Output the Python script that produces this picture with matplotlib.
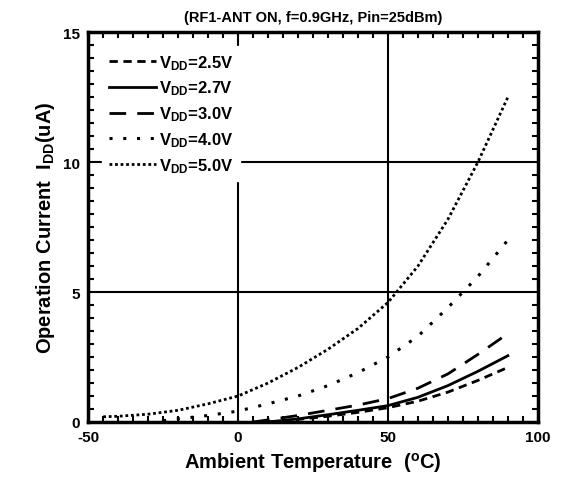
import matplotlib
matplotlib.use("Agg")
import matplotlib.pyplot as plt
from matplotlib.ticker import MultipleLocator

# fonts: Arial-like bold everywhere
plt.rcParams["font.family"] = ["Liberation Sans", "DejaVu Sans"]
plt.rcParams["font.weight"] = "bold"
plt.rcParams["mathtext.fontset"] = "custom"
plt.rcParams["mathtext.rm"] = "Liberation Sans:bold"
plt.rcParams["mathtext.bf"] = "Liberation Sans:bold"
plt.rcParams["mathtext.it"] = "Liberation Sans:bold"
plt.rcParams["mathtext.default"] = "rm"
plt.rcParams["axes.unicode_minus"] = False

# data (temperature in degC, current in uA)
t_25 = [10, 20, 30, 40, 50, 60, 70, 80, 90]
i_25 = [0.0, 0.1, 0.22, 0.37, 0.55, 0.8, 1.15, 1.6, 2.1]

t_27 = [10, 20, 30, 40, 50, 60, 70, 80, 90]
i_27 = [0.0, 0.12, 0.28, 0.45, 0.63, 0.95, 1.4, 1.95, 2.55]

t_30 = [5, 10, 20, 30, 40, 50, 60, 70, 80, 90]
i_30 = [0.0, 0.08, 0.25, 0.45, 0.65, 0.9, 1.3, 1.85, 2.6, 3.4]

t_40 = [-25, -20, -10, 0, 10, 20, 30, 40, 50, 60, 70, 80, 90]
i_40 = [0.05, 0.12, 0.25, 0.42, 0.7, 1.0, 1.4, 1.9, 2.5, 3.3, 4.4, 5.6, 7.0]

t_50 = [-45, -40, -30, -20, -10, 0, 10, 20, 30, 40, 50, 60, 70, 80, 90]
i_50 = [0.2, 0.22, 0.3, 0.45, 0.7, 1.0, 1.5, 2.1, 2.8, 3.6, 4.6, 6.0, 7.8, 10.0, 12.5]

fig = plt.figure(figsize=(5.62, 4.89), dpi=100)
ax = fig.add_axes([0.157, 0.135, 0.8, 0.797])

# grid lines at major ticks
for xv in [0, 50]:
    ax.axvline(xv, color="black", linewidth=1.5, zorder=1)
for yv in [5, 10]:
    ax.axhline(yv, color="black", linewidth=1.5, zorder=1)

ax.plot(t_25, i_25, color="black", linewidth=2, linestyle=(0, (3, 2)),
        label="V$_{DD}$=2.5V", zorder=3)
ax.plot(t_27, i_27, color="black", linewidth=2, linestyle="-",
        label="V$_{DD}$=2.7V", zorder=3)
ax.plot(t_30, i_30, color="black", linewidth=2, linestyle=(0, (6, 4)),
        label="V$_{DD}$=3.0V", zorder=3)
ax.plot(t_40, i_40, color="black", linewidth=2.2, linestyle=(0, (1, 3.5)),
        label="V$_{DD}$=4.0V", zorder=3)
ax.plot(t_50, i_50, color="black", linewidth=2, linestyle=(0, (1, 1)),
        label="V$_{DD}$=5.0V", zorder=3)

ax.set_xlim(-50, 100)
ax.set_ylim(0, 15)
ax.xaxis.set_major_locator(MultipleLocator(50))
ax.xaxis.set_minor_locator(MultipleLocator(5))
ax.yaxis.set_major_locator(MultipleLocator(5))
ax.yaxis.set_minor_locator(MultipleLocator(0.5))
ax.tick_params(which="both", direction="in", top=True, right=True,
               width=1.5, labelsize=11, pad=6)
ax.tick_params(which="major", length=0)
ax.tick_params(which="minor", length=4)
for lbl in ax.get_xticklabels() + ax.get_yticklabels():
    lbl.set_fontweight("bold")
for sp in ax.spines.values():
    sp.set_linewidth(2.5)

ax.set_xlabel("Ambient Temperature  ($^{o}$C)", fontsize=14.5, fontweight="bold")
ax.set_ylabel("Operation Current  I$_{DD}$(uA)", fontsize=14.5, fontweight="bold")
ax.set_title("(RF1-ANT ON, f=0.9GHz, Pin=25dBm)", fontsize=10.5,
             fontweight="bold", pad=8)

leg = ax.legend(loc="upper left", handlelength=2.8, handletextpad=0.2,
                fontsize=12, labelspacing=0.42, borderaxespad=0.85,
                fancybox=False, framealpha=1)
leg.get_frame().set_edgecolor("white")
leg.set_zorder(2)

plt.savefig("out.png", dpi=100)
